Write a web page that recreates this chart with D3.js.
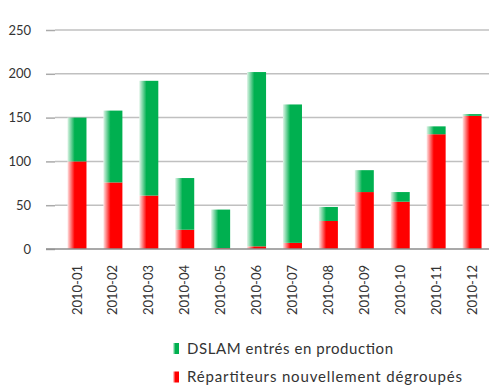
<!DOCTYPE html>
<html>
<head>
<meta charset="utf-8">
<script src="https://cdn.jsdelivr.net/npm/d3@7"></script>
<style>
  body { margin: 0; background: #fff; }
  text { font-family: Lato, "Liberation Sans", sans-serif; fill: #333; }
</style>
</head>
<body>
<svg id="chart"></svg>
<script>
const months = ["2010-01", "2010-02", "2010-03", "2010-04", "2010-05", "2010-06",
  "2010-07", "2010-08", "2010-09", "2010-10", "2010-11", "2010-12"];
const repartiteurs = [100, 76, 61, 22, 1, 3, 7, 32, 65, 54, 131, 152];
const dslam = [50, 82, 131, 59, 44, 199, 158, 16, 25, 11, 9, 2];
const yTicks = [0, 50, 100, 150, 200, 250];
const seriesNames = ["Répartiteurs nouvellement dégroupés", "DSLAM entrés en production"];

const width = 500;
const height = 392;

const svg = d3.select("#chart").attr("width", width).attr("height", height);

const rows = months.map((m, i) => ({ month: m, rep: repartiteurs[i], dslam: dslam[i] }));
const stacked = d3.stack().keys(["rep", "dslam"])(rows);

const xScale = d3.scaleBand()
  .domain(months)
  .range([59, 490])
  .paddingInner(0.47)
  .paddingOuter(0.235);

const yScale = d3.scaleLinear().domain([0, 250]).range([249, 30]);

const colors = { rep: ["#ffe6e6", "#ff0000"], dslam: ["#e0f5e8", "#00b050"] };

// bar shading, pale on the left
const defs = svg.append("defs");
Object.keys(colors).forEach((k) => {
  const g = defs.append("linearGradient").attr("id", "grad-" + k)
    .attr("x1", "0%").attr("x2", "100%").attr("y1", "0%").attr("y2", "0%");
  g.append("stop").attr("offset", "0%").attr("stop-color", colors[k][0]);
  g.append("stop").attr("offset", "38%").attr("stop-color", colors[k][1]);
  g.append("stop").attr("offset", "100%").attr("stop-color", colors[k][1]);
});

// gridlines and left ticks
const yAxis = d3.axisLeft(yScale).tickValues(yTicks).tickSize(9).tickPadding(15);
const yG = svg.append("g").attr("transform", "translate(55,0)").call(yAxis);
yG.select(".domain").remove();
yG.selectAll(".tick line").attr("stroke", "#aaa").attr("stroke-width", 1.5);
yG.selectAll(".tick text").style("font-size", "13px").attr("fill", "#333");

svg.append("g")
  .selectAll("line")
  .data(yTicks.filter((t) => t > 0))
  .join("line")
  .attr("x1", 55)
  .attr("x2", 489)
  .attr("y1", (d) => yScale(d))
  .attr("y2", (d) => yScale(d))
  .attr("stroke", "#c0c0c0")
  .attr("stroke-width", 1.5);

// bars
svg.append("g")
  .selectAll("g")
  .data(stacked)
  .join("g")
  .attr("fill", (s) => `url(#grad-${s.key})`)
  .selectAll("rect")
  .data((s) => s)
  .join("rect")
  .attr("x", (d) => xScale(d.data.month))
  .attr("y", (d) => yScale(d[1]))
  .attr("width", xScale.bandwidth())
  .attr("height", (d) => yScale(d[0]) - yScale(d[1]));

// baseline
svg.append("line")
  .attr("x1", 46).attr("x2", 489)
  .attr("y1", yScale(0)).attr("y2", yScale(0))
  .attr("stroke", "#8c8c8c").attr("stroke-width", 1.5);

// month labels
svg.append("g")
  .selectAll("text")
  .data(months)
  .join("text")
  .attr("transform", (d) => `translate(${xScale(d) + xScale.bandwidth() / 2},265) rotate(-90)`)
  .attr("text-anchor", "end")
  .attr("dy", "0.35em")
  .style("font-size", "13px")
  .text((d) => d);

// legend
const legendItems = [
  { key: "dslam", name: seriesNames[1], y: 348.5, len: 206 },
  { key: "rep", name: seriesNames[0], y: 377, len: 275 }
];
const lg = svg.append("g").selectAll("g").data(legendItems).join("g")
  .attr("transform", (d) => `translate(173,${d.y})`);
lg.append("rect")
  .attr("x", 0).attr("y", -5.5)
  .attr("width", 6).attr("height", 11)
  .attr("fill", (d) => `url(#grad-${d.key})`);
lg.append("text")
  .attr("x", 14)
  .attr("dy", "0.36em")
  .attr("textLength", (d) => d.len)
  .attr("lengthAdjust", "spacing")
  .style("font-size", "15px")
  .text((d) => d.name);
</script>
</body>
</html>
